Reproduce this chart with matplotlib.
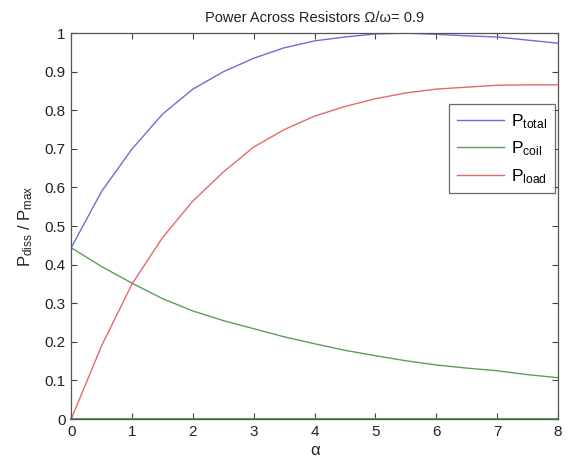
import matplotlib
matplotlib.use('Agg')
import matplotlib.pyplot as plt
import numpy as np

# values (step 0.5 in alpha)
alpha = [0, 0.5, 1, 1.5, 2, 2.5, 3, 3.5, 4, 4.5, 5, 5.5, 6, 6.5, 7, 7.5, 8]
p_total = [0.444, 0.59, 0.70, 0.79, 0.855, 0.90, 0.935, 0.962, 0.98, 0.99,
           0.998, 1.0, 0.997, 0.993, 0.99, 0.982, 0.974]
p_coil = [0.444, 0.395, 0.352, 0.312, 0.28, 0.255, 0.234, 0.213, 0.195, 0.178,
          0.164, 0.151, 0.140, 0.132, 0.125, 0.115, 0.107]
p_load = [0, 0.19, 0.35, 0.47, 0.565, 0.64, 0.705, 0.75, 0.785, 0.81,
          0.83, 0.845, 0.855, 0.86, 0.865, 0.866, 0.866]
p_zero = [0.0] * len(alpha)

plt.rcParams['font.family'] = ['Liberation Sans', 'DejaVu Sans']
plt.rcParams['mathtext.default'] = 'regular'

fig = plt.figure(figsize=(5.72, 4.61), dpi=100)
ax = fig.add_axes([0.1245, 0.0911, 0.851, 0.837])

c_blue = '#6a70d0'
c_green = '#5e9e5e'
c_red = '#e46a6a'

ax.plot(alpha, p_total, color=c_blue, lw=1.0, label='P$_{total}$')
ax.plot(alpha, p_coil, color=c_green, lw=1.0, label='P$_{coil}$')
ax.plot(alpha, p_load, color=c_red, lw=1.0, label='P$_{load}$')
ax.plot(alpha, p_zero, color=c_green, lw=1.5, clip_on=False)

ax.set_xlim(0, 8)
ax.set_ylim(0, 1)
ax.set_xticks(np.arange(0, 9, 1))
ax.set_yticks(np.arange(0, 1.01, 0.1))
ax.set_yticklabels(['0', '0.1', '0.2', '0.3', '0.4', '0.5', '0.6', '0.7', '0.8', '0.9', '1'])
ax.tick_params(direction='in', top=True, right=True, length=4, width=0.8,
               labelsize=11, colors='#444444', labelcolor='#222222', pad=4)
for s in ax.spines.values():
    s.set_color('#555555')
    s.set_linewidth(0.9)

ax.set_xlabel('α', fontsize=12, color='#222222', labelpad=3)
ax.set_ylabel('P$_{diss}$ / P$_{max}$', fontsize=12, color='#222222', labelpad=7)
ax.set_title('Power Across Resistors Ω/ω= 0.9', fontsize=10.5, color='#222222', pad=8)

leg = ax.legend(loc='center right', bbox_to_anchor=(0.993, 0.70), fontsize=12.5,
                frameon=True, fancybox=False, handlelength=2.7, labelspacing=0.5,
                borderpad=0.45, handletextpad=0.4, borderaxespad=0)
leg.get_frame().set_edgecolor('#444444')
leg.get_frame().set_linewidth(0.9)

plt.savefig('out.png', dpi=100)
